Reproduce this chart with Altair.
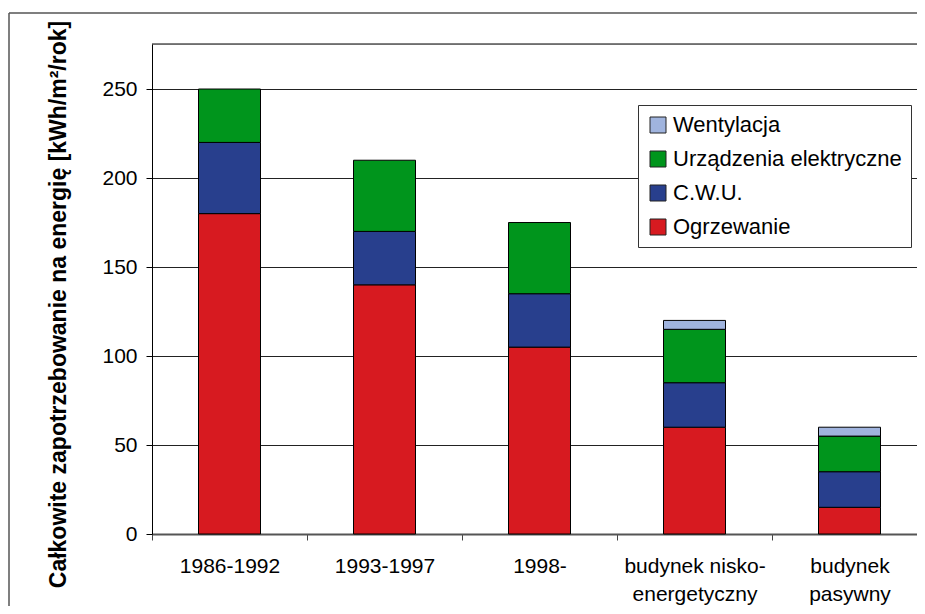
import altair as alt
import pandas as pd

categories = ["1986-1992", "1993-1997", "1998-", "budynek nisko-energetyczny", "budynek pasywny"]
label_lines = {
    "budynek nisko-energetyczny": ["budynek nisko-", "energetyczny"],
    "budynek pasywny": ["budynek", "pasywny"],
}
series = ["Ogrzewanie", "C.W.U.", "Urządzenia elektryczne", "Wentylacja"]
ogrzewanie = [180, 140, 105, 60, 15]
cwu = [40, 30, 30, 25, 20]
urzadzenia = [30, 40, 40, 30, 20]
wentylacja = [0, 0, 0, 5, 5]
colors = {"Wentylacja": "#A0B4DE", "Urządzenia elektryczne": "#00951C",
          "C.W.U.": "#283F8D", "Ogrzewanie": "#D71A20"}
y_ticks = [0, 50, 100, 150, 200, 250]

values_by_series = [ogrzewanie, cwu, urzadzenia, wentylacja]
rows = []
for si, (name, vals) in enumerate(zip(series, values_by_series)):
    for c, v in zip(categories, vals):
        rows.append({"kategoria": c, "seria": name, "wartosc": v, "kolejnosc": si})
df = pd.DataFrame(rows)

W, H = 765, 490
XR = 775
FONT = "Liberation Sans"

expr_parts = []
for k, lines in label_lines.items():
    arr = "[" + ",".join("'" + l + "'" for l in lines) + "]"
    expr_parts.append(f"datum.label == '{k}' ? {arr} : ")
label_expr = "".join(expr_parts) + "datum.label"

legend_order = ["Wentylacja", "Urządzenia elektryczne", "C.W.U.", "Ogrzewanie"]

bars = alt.Chart(df).transform_filter("datum.wartosc > 0").mark_bar(
    stroke="black", strokeWidth=1, width=alt.RelativeBandSize(0.4)
).encode(
    x=alt.X("kategoria:N", sort=categories, title=None,
            scale=alt.Scale(paddingInner=0, paddingOuter=0, range=[0, XR]),
            axis=alt.Axis(labelAngle=0, labelExpr=label_expr, labelFontSize=21,
                          labelFont=FONT, labelColor="black", labelLineHeight=28,
                          labelPadding=15, tickBand="extent", tickSize=6,
                          tickColor="#444", domainColor="#555", domainWidth=2,
                          labelLimit=300, grid=False)),
    y=alt.Y("wartosc:Q", stack="zero",
            scale=alt.Scale(domain=[0, 275.3], nice=False),
            title="Całkowite zapotrzebowanie na energię [kWh/m²/rok]",
            axis=alt.Axis(values=y_ticks, labelFontSize=21, labelFont=FONT,
                          labelColor="black", labelPadding=9, tickSize=6,
                          tickColor="black", domainColor="black", gridColor="#222",
                          gridWidth=1, titleFontSize=23, titleFont=FONT,
                          titleFontWeight="bold", titleColor="black",
                          titleX=-94, titleY=260, titleAngle=270,
                          titleAlign="center", titleBaseline="middle")),
    color=alt.Color("seria:N",
                    scale=alt.Scale(domain=legend_order,
                                    range=[colors[s] for s in legend_order]),
                    legend=alt.Legend(orient="none", legendX=486, legendY=61,
                                      title=None, symbolType="square",
                                      symbolSize=256, symbolStrokeColor="#222",
                                      symbolStrokeWidth=1, symbolOpacity=1,
                                      labelFontSize=22, labelFont=FONT,
                                      labelColor="black", padding=9,
                                      strokeColor="#333", fillColor="white",
                                      rowPadding=12, labelOffset=4,
                                      labelLimit=400)),
    order=alt.Order("kolejnosc:Q", sort="ascending"),
)

one = alt.Data(values=[{}])
frame_left = alt.Chart(one).mark_rule(color="#555", strokeWidth=1.5, clip=False).encode(
    x=alt.value(-143), y=alt.value(-31), y2=alt.value(H + 72))
frame_top = alt.Chart(one).mark_rule(color="#555", strokeWidth=1.5, clip=False).encode(
    x=alt.value(-143), x2=alt.value(W), y=alt.value(-31))
topline = alt.Chart(one).mark_rule(color="black", strokeWidth=1).encode(
    x=alt.value(0), x2=alt.value(XR), y=alt.value(0))

chart = alt.layer(frame_left, frame_top, bars, topline).properties(
    width=W, height=H,
    autosize=alt.AutoSizeParams(type="none"),
    padding={"left": 144, "top": 36, "right": 0, "bottom": 72},
).configure_view(stroke=None).configure(font=FONT)

chart.save("out.html", embed_options={"renderer": "svg", "actions": False})
